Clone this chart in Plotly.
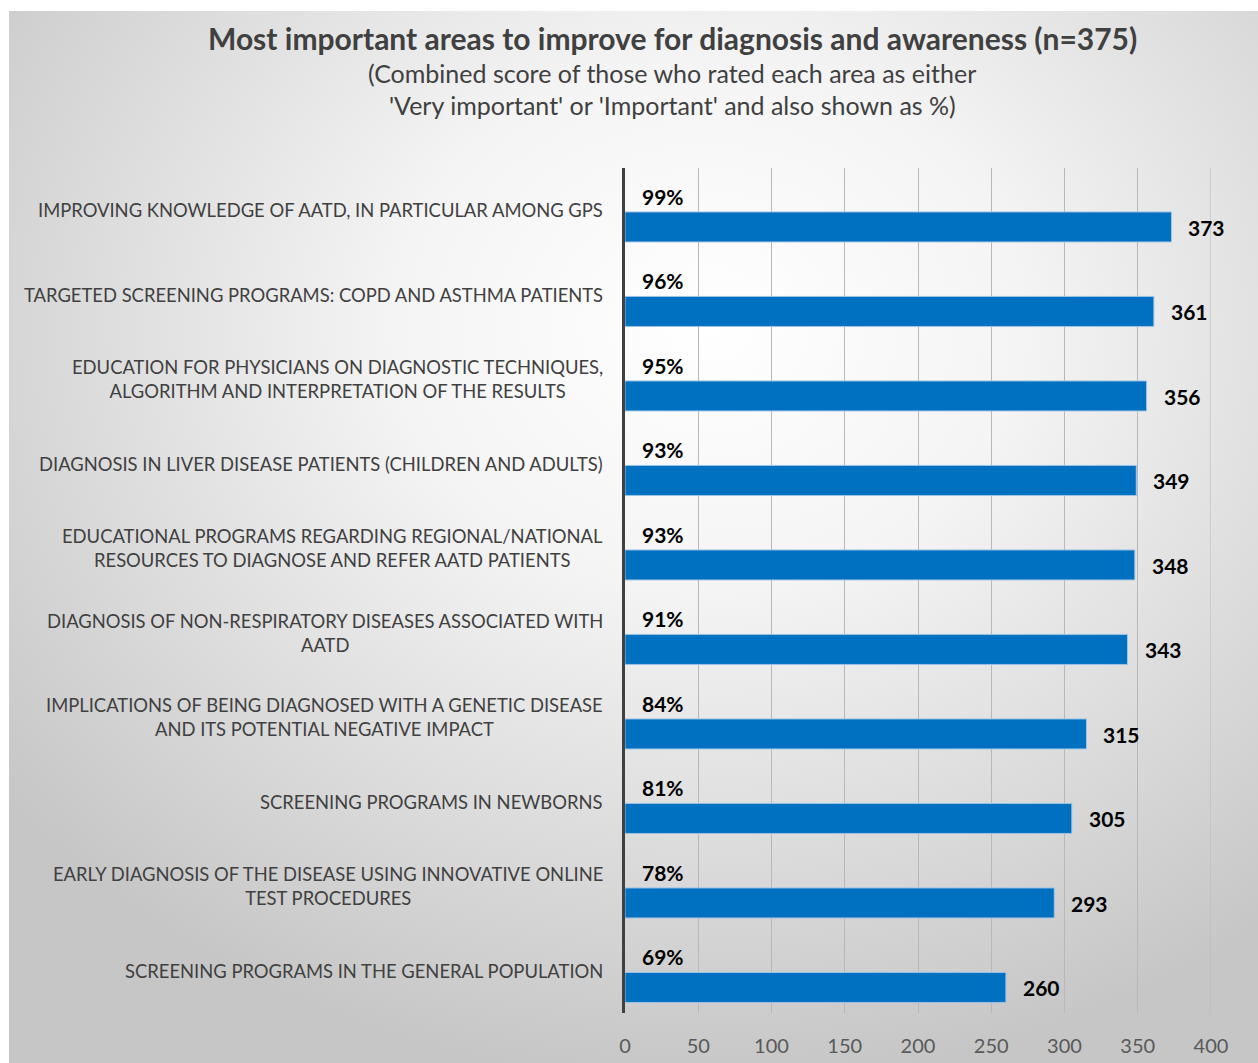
import base64
import plotly.graph_objects as go

# Survey results: areas to improve for diagnosis and awareness (n=375)
categories = [
    "IMPROVING KNOWLEDGE OF AATD, IN PARTICULAR AMONG GPS",
    "TARGETED SCREENING PROGRAMS: COPD AND ASTHMA PATIENTS",
    "EDUCATION FOR PHYSICIANS ON DIAGNOSTIC TECHNIQUES,<br>ALGORITHM AND INTERPRETATION OF THE RESULTS",
    "DIAGNOSIS IN LIVER DISEASE PATIENTS (CHILDREN AND ADULTS)",
    "EDUCATIONAL PROGRAMS REGARDING REGIONAL/NATIONAL<br>RESOURCES TO DIAGNOSE AND REFER AATD PATIENTS",
    "DIAGNOSIS OF NON-RESPIRATORY DISEASES ASSOCIATED WITH<br>AATD",
    "IMPLICATIONS OF BEING DIAGNOSED WITH A GENETIC DISEASE<br>AND ITS POTENTIAL NEGATIVE IMPACT",
    "SCREENING PROGRAMS IN NEWBORNS",
    "EARLY DIAGNOSIS OF THE DISEASE USING INNOVATIVE ONLINE<br>TEST PROCEDURES",
    "SCREENING PROGRAMS IN THE GENERAL POPULATION",
]
counts = [373, 361, 356, 349, 348, 343, 315, 305, 293, 260]
percents = [99, 96, 95, 93, 93, 91, 84, 81, 78, 69]
x_ticks = [0, 50, 100, 150, 200, 250, 300, 350, 400]

W, H = 1258, 1063
M_L, M_R, M_T, M_B = 625, 47, 168, 50
PW, PH = W - M_L - M_R, H - M_T - M_B

FONT = "Lato"
BLUE = "#0070C0"
DARK = "#404040"
GRID = "#b8b8b8"

fig = go.Figure()
fig.add_trace(go.Bar(
    x=counts,
    y=categories,
    orientation="h",
    width=0.355,
    offset=0.02,
    marker=dict(color=BLUE, line=dict(color="#9DC3E6", width=1)),
    hoverinfo="x+y",
    showlegend=False,
))

annotations = []
# category labels, centred text block right-aligned against the axis
for cat in categories:
    annotations.append(dict(
        x=0, xref="paper", xanchor="right", xshift=-20,
        y=cat, yref="y", yanchor="middle",
        text=cat, align="center", showarrow=False,
        font=dict(family=FONT, size=18.4, color=DARK),
    ))
# percentage labels above each bar
for cat, p in zip(categories, percents):
    annotations.append(dict(
        x=0, xref="x", xanchor="left", xshift=15,
        y=cat, yref="y", yanchor="middle", yshift=14,
        text=f"<b>{p}%</b>", showarrow=False,
        font=dict(family=FONT, size=21, color="#000000"),
    ))
# count labels at the end of each bar
for cat, c in zip(categories, counts):
    annotations.append(dict(
        x=c, xref="x", xanchor="left", xshift=15,
        y=cat, yref="y", yanchor="middle", yshift=-17,
        text=f"<b>{c}</b>", showarrow=False,
        font=dict(family=FONT, size=21, color="#000000"),
    ))


def px_to_paper_x(px):
    return (px - M_L) / PW


def px_to_paper_y(py):
    return (H - M_B - py) / PH


# title block (positions in pixels)
title_lines = [
    ("<b>Most important areas to improve for diagnosis and awareness (n=375)</b>", 38, 30),
    ("(Combined score of those who rated each area as either", 73, 25),
    ("'Very important' or 'Important' and also shown as %)", 105, 25),
]
for text, ypx, size in title_lines:
    annotations.append(dict(
        x=px_to_paper_x(672), xref="paper", xanchor="center",
        y=px_to_paper_y(ypx), yref="paper", yanchor="middle",
        text=text, showarrow=False,
        font=dict(family=FONT, size=size, color=DARK),
    ))

# radial grey-to-white background panel
svg = (
    '<svg xmlns="http://www.w3.org/2000/svg" width="1249" height="1052" '
    'preserveAspectRatio="none" viewBox="0 0 1249 1052">'
    '<defs><radialGradient id="g" cx="0.56" cy="0.3" r="0.72" fx="0.56" fy="0.3">'
    '<stop offset="0" stop-color="#ffffff"/>'
    '<stop offset="0.35" stop-color="#f4f4f4"/>'
    '<stop offset="1" stop-color="#c6c6c6"/>'
    '</radialGradient></defs>'
    '<rect width="1249" height="1052" fill="url(#g)"/></svg>'
)
svg_uri = "data:image/svg+xml;base64," + base64.b64encode(svg.encode()).decode()
panel_x0, panel_y0, panel_x1, panel_y1 = 9, 11, 1258, 1063

fig.update_layout(
    width=W, height=H,
    margin=dict(l=M_L, r=M_R, t=M_T, b=M_B, pad=0, autoexpand=False),
    paper_bgcolor="#ffffff",
    plot_bgcolor="rgba(0,0,0,0)",
    annotations=annotations,
    # closing gridline at the right end of the value axis
    shapes=[dict(
        type="line", xref="x", yref="paper",
        x0=x_ticks[-1], x1=x_ticks[-1], y0=0, y1=1,
        line=dict(color=GRID, width=1), layer="below",
    )],
    images=[dict(
        source=svg_uri, xref="paper", yref="paper",
        x=px_to_paper_x(panel_x0), y=px_to_paper_y(panel_y0),
        sizex=(panel_x1 - panel_x0) / PW, sizey=(panel_y1 - panel_y0) / PH,
        xanchor="left", yanchor="top", sizing="stretch", layer="below",
    )],
    xaxis=dict(
        range=[0, 400], tickvals=x_ticks, ticktext=[str(t) for t in x_ticks],
        showgrid=True, gridcolor=GRID, gridwidth=1,
        zeroline=False, showline=False, ticks="",
        ticklabelstandoff=19, automargin=False,
        tickfont=dict(family=FONT, size=20, color="#595959"),
        fixedrange=True,
    ),
    yaxis=dict(
        categoryorder="array", categoryarray=categories,
        autorange="reversed", showticklabels=False, ticks="",
        showgrid=False, zeroline=False, automargin=False,
        showline=True, linecolor=DARK, linewidth=3,
        fixedrange=True,
    ),
)

fig.write_html("out.html")
